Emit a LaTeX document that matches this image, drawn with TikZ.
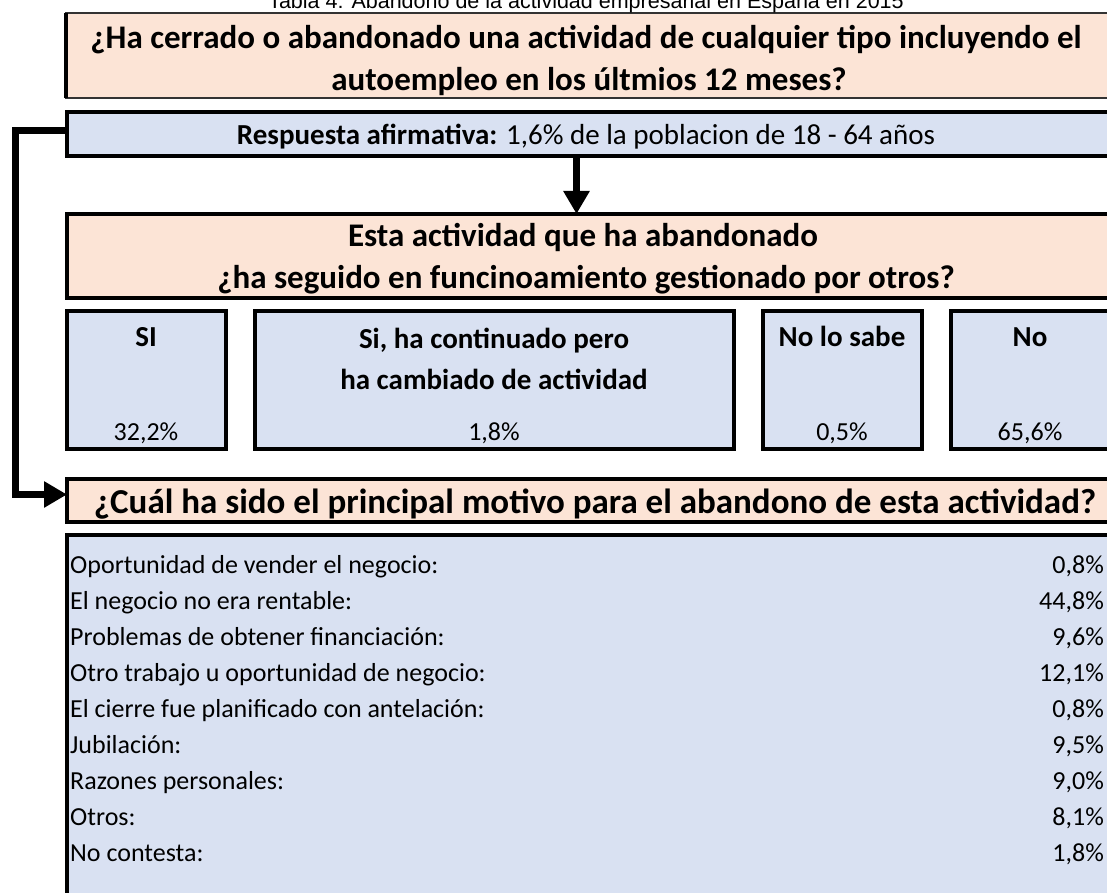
\documentclass[tikz,border=0pt]{standalone}
\usepackage{fontspec}
\setmainfont{Carlito}
\newfontfamily\arialf{Liberation Sans}
\usetikzlibrary{arrows.meta}
\definecolor{peach}{HTML}{FCE4D6}
\definecolor{lblue}{HTML}{D9E1F2}
\begin{document}
\begin{tikzpicture}[x=1pt,y=-1pt,
  box/.style={draw=black,line width=3.8pt,anchor=north west,inner sep=0pt,outer sep=0pt},
  qbox/.style={box,fill=peach},
  abox/.style={box,fill=lblue},
  big/.style={anchor=base,inner sep=0pt,font=\fontsize{33}{38}\selectfont\bfseries},
  mid/.style={anchor=base,inner sep=0pt,font=\fontsize{29}{34}\selectfont\bfseries},
  reg/.style={anchor=base,inner sep=0pt,font=\fontsize{26}{31}\selectfont},
  conn/.style={line width=7pt,-{Triangle[length=23pt,width=25pt]}}]
\useasboundingbox (0,0) rectangle (1107,893);
\clip (0,0) rectangle (1107,893);
\fill[white] (0,0) rectangle (1107,893);
% boxes
\node[qbox,draw=black!80,line width=2.5pt,minimum width=1054pt,minimum height=85pt] (q1) at (66,13) {};
\draw[line width=3.8pt] (q1.north west) -- (q1.south west);
\node[abox,minimum width=1053pt,minimum height=44pt] (r1) at (67,112) {};
\node[qbox,minimum width=1053pt,minimum height=84pt] (q2) at (67,214) {};
\node[abox,minimum width=159pt,minimum height=138pt] (si) at (67,311) {};
\node[abox,minimum width=479pt,minimum height=138pt] (cont) at (255,311) {};
\node[abox,minimum width=159pt,minimum height=138pt] (nosabe) at (763,311) {};
\node[abox,minimum width=169pt,minimum height=138pt] (no) at (951,311) {};
\node[qbox,minimum width=1053pt,minimum height=43pt] (q3) at (67,479) {};
\node[abox,minimum width=1053pt,minimum height=370pt] (mot) at (67,535) {};
% title
\node[anchor=base,inner sep=0pt,font=\arialf\fontsize{21.5}{24}\selectfont] (title) at (586,9) {Tabla 4: Abandono de la actividad empresarial en España en 2015};
% texts
\node[big] (q1a) at (586,49) {¿Ha cerrado o abandonado una actividad de cualquier tipo incluyendo el};
\node[big] (q1b) at (589,91) {autoempleo en los últmios 12 meses?};
\node[anchor=base,inner sep=0pt,font=\fontsize{29}{34}\selectfont] (r1t) at (586,145) {\bfseries Respuesta afirmativa:\mdseries{} 1,6\% de la poblacion de 18 - 64 años};
\node[big] (q2a) at (583,247) {Esta actividad que ha abandonado};
\node[big] (q2b) at (586,288) {¿ha seguido en funcinoamiento gestionado por otros?};
\node[mid] (sit) at (146,346) {SI};
\node[reg] (siv) at (146,440) {32,2\%};
\node[mid] (cont1) at (494,348) {Si, ha continuado pero};
\node[mid] (cont2) at (494,389) {ha cambiado de actividad};
\node[reg] (contv) at (494,440) {1,8\%};
\node[mid] (nst) at (842,346) {No lo sabe};
\node[reg] (nsv) at (842,440) {0,5\%};
\node[mid] (not) at (1030,346) {No};
\node[reg] (nov) at (1030,440) {65,6\%};
\node[anchor=base,inner sep=0pt,font=\fontsize{35}{40}\selectfont\bfseries] (q3t) at (595,513) {¿Cuál ha sido el principal motivo para el abandono de esta actividad?};
% rows
\foreach \lab/\val [count=\i from 0] in {Oportunidad de vender el negocio:/0{,}8\%, El negocio no era rentable:/44{,}8\%, Problemas de obtener financiación:/9{,}6\%, Otro trabajo u oportunidad de negocio:/12{,}1\%, El cierre fue planificado con antelación:/0{,}8\%, Jubilación:/9{,}5\%, Razones personales:/9{,}0\%, Otros:/8{,}1\%, No contesta:/1{,}8\%}{
  \node[reg,anchor=base west] (l\i) at (70,573+36*\i) {\lab};
  \node[reg,anchor=base east] (v\i) at (1104,573+36*\i) {\val};
}
% connectors
\coordinate (d0) at ([xshift=-17pt]r1.south);
\draw[conn] (d0) -- (d0 |- q2.north);
\draw[conn] ([yshift=3pt]r1.west) -- ++(-52,0) |- ([yshift=6pt]q3.west);
\end{tikzpicture}
\end{document}
